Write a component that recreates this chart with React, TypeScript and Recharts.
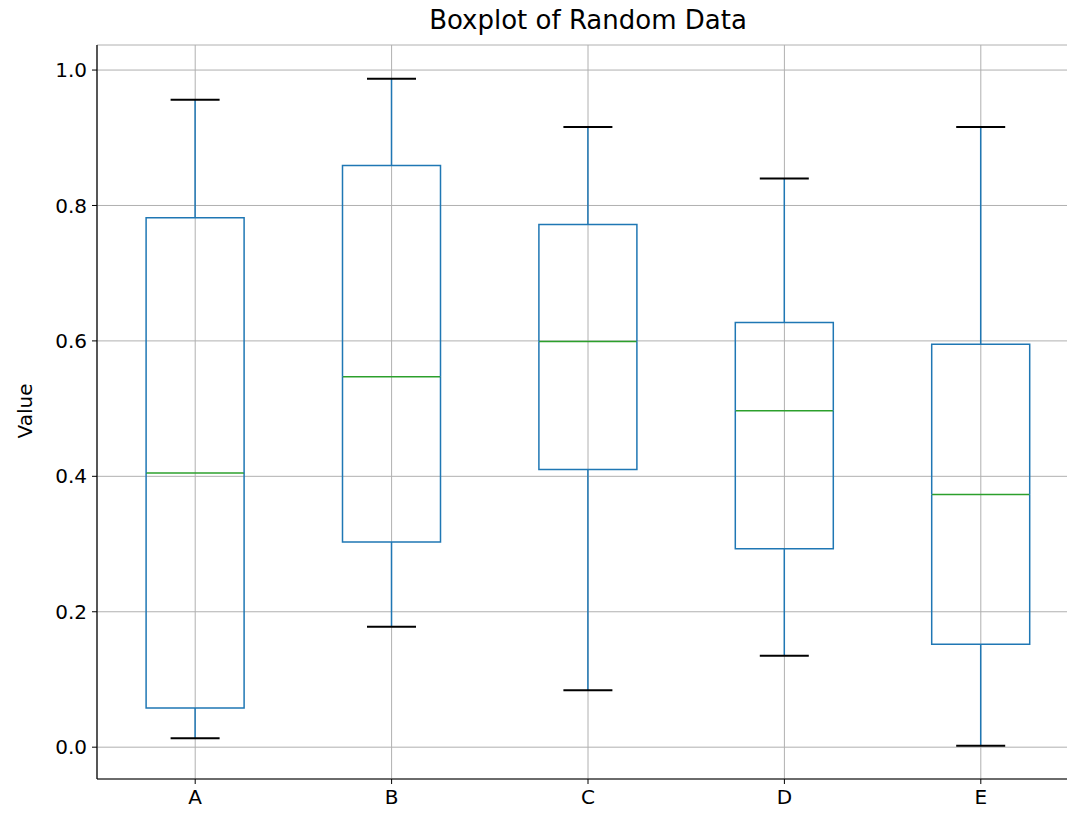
import { ComposedChart, Bar, XAxis, YAxis, CartesianGrid } from "recharts";

const categories = ["A", "B", "C", "D", "E"];
const whiskerLow = [0.013, 0.178, 0.084, 0.135, 0.002];
const q1 = [0.058, 0.303, 0.41, 0.293, 0.152];
const medians = [0.405, 0.547, 0.599, 0.497, 0.373];
const q3 = [0.782, 0.859, 0.772, 0.627, 0.595];
const whiskerHigh = [0.956, 0.987, 0.916, 0.84, 0.916];
const yTicks = [0, 0.2, 0.4, 0.6, 0.8, 1.0];

const BLUE = "#1f77b4";
const GREEN = "#2ca02c";
const FONT = "DejaVu Sans, sans-serif";

// stacked segments: invisible base, lower whisker, lower box, upper box, upper whisker
const data = categories.map((name, i) => ({
  name,
  base: whiskerLow[i],
  lowWhisker: q1[i] - whiskerLow[i],
  lowBox: medians[i] - q1[i],
  highBox: q3[i] - medians[i],
  highWhisker: whiskerHigh[i] - q3[i],
}));

const Empty = () => <g />;

const LowWhisker = (p: any) => {
  const cx = p.x + p.width / 2;
  const cap = p.width / 4;
  return (
    <g>
      <line x1={cx} x2={cx} y1={p.y} y2={p.y + p.height} stroke={BLUE} strokeWidth={1.5} />
      <line x1={cx - cap} x2={cx + cap} y1={p.y + p.height} y2={p.y + p.height} stroke="#000" strokeWidth={2} />
    </g>
  );
};

const HighWhisker = (p: any) => {
  const cx = p.x + p.width / 2;
  const cap = p.width / 4;
  return (
    <g>
      <line x1={cx} x2={cx} y1={p.y} y2={p.y + p.height} stroke={BLUE} strokeWidth={1.5} />
      <line x1={cx - cap} x2={cx + cap} y1={p.y} y2={p.y} stroke="#000" strokeWidth={2} />
    </g>
  );
};

const LowBox = (p: any) => {
  const { x, y, width: w, height: h } = p;
  return (
    <g>
      <path d={`M${x},${y} L${x},${y + h} L${x + w},${y + h} L${x + w},${y}`} fill="none" stroke={BLUE} strokeWidth={1.5} />
      <line x1={x} x2={x + w} y1={y} y2={y} stroke={GREEN} strokeWidth={1.5} />
    </g>
  );
};

const HighBox = (p: any) => {
  const { x, y, width: w, height: h } = p;
  return (
    <path d={`M${x},${y + h} L${x},${y} L${x + w},${y} L${x + w},${y + h}`} fill="none" stroke={BLUE} strokeWidth={1.5} />
  );
};

const tickStyle = { fontSize: 20, fill: "#000", fontFamily: FONT };

export default function App() {
  return (
    <div style={{ position: "absolute", left: 0, top: 0, width: 1067, height: 816, background: "#fff", overflow: "hidden" }}>
      <div
        style={{
          position: "absolute",
          left: 97,
          width: 982,
          top: 5,
          textAlign: "center",
          fontFamily: FONT,
          fontSize: 26,
          color: "#000",
        }}
      >
        Boxplot of Random Data
      </div>
      <ComposedChart
        width={1080}
        height={816}
        data={data}
        margin={{ top: 45, right: 1, bottom: 0, left: 0 }}
        barCategoryGap="25%"
      >
        <CartesianGrid stroke="#b0b0b0" strokeWidth={1} yAxisId="left" />
        <XAxis
          dataKey="name"
          height={37}
          tick={tickStyle}
          tickLine={{ stroke: "#000" }}
          tickSize={5}
          tickMargin={6}
          axisLine={{ stroke: "#000", strokeWidth: 1.2 }}
        />
        <XAxis xAxisId="top" dataKey="name" orientation="top" height={0} tick={false} tickLine={false} axisLine={{ stroke: "#000", strokeWidth: 1.2 }} />
        <YAxis
          yAxisId="left"
          width={97}
          domain={[-0.047, 1.037]}
          allowDataOverflow
          ticks={yTicks}
          tickFormatter={(v: number) => v.toFixed(1)}
          tick={tickStyle}
          tickLine={{ stroke: "#000" }}
          tickSize={5}
          tickMargin={5}
          axisLine={{ stroke: "#000", strokeWidth: 1.2 }}
          label={{
            content: () => (
              <text x={25} y={411} transform="rotate(-90 25 411)" textAnchor="middle" dominantBaseline="central" fontSize={20} fontFamily={FONT} fill="#000">
                Value
              </text>
            ),
          }}
        />
        <YAxis yAxisId="right" orientation="right" width={0} domain={[-0.047, 1.037]} tick={false} tickLine={false} axisLine={{ stroke: "#000", strokeWidth: 1.2 }} />
        <Bar dataKey="base" stackId="s" yAxisId="left" shape={Empty} isAnimationActive={false} />
        <Bar dataKey="lowWhisker" stackId="s" yAxisId="left" shape={LowWhisker} isAnimationActive={false} />
        <Bar dataKey="lowBox" stackId="s" yAxisId="left" shape={LowBox} isAnimationActive={false} />
        <Bar dataKey="highBox" stackId="s" yAxisId="left" shape={HighBox} isAnimationActive={false} />
        <Bar dataKey="highWhisker" stackId="s" yAxisId="left" shape={HighWhisker} isAnimationActive={false} />
      </ComposedChart>
    </div>
  );
}
